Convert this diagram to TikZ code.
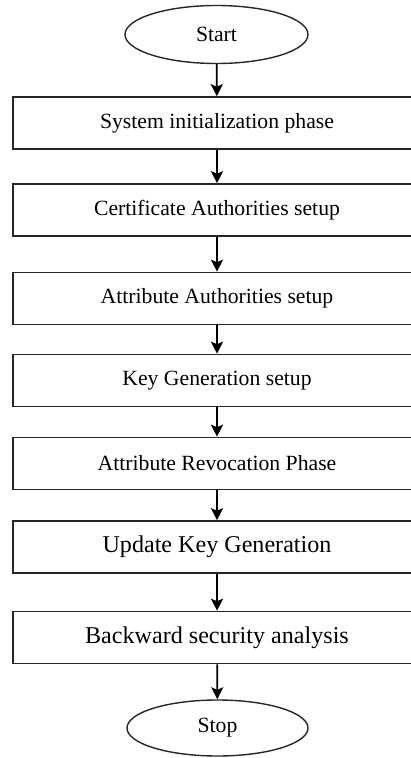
\documentclass[tikz,border=0pt]{standalone}
\usepackage{fontspec}
\setmainfont{Liberation Serif}
\usetikzlibrary{shapes.geometric,arrows.meta}
\begin{document}
\begin{tikzpicture}[x=1pt,y=-1pt,
  stepbox/.style={draw=black!85,line width=1.6pt,rectangle,minimum width=408pt,minimum height=52pt,inner sep=0pt,
    font=\fontsize{21.7}{24}\selectfont},
  bigbox/.style={stepbox,font=\fontsize{24.1}{27}\selectfont},
  term/.style={draw=black!85,line width=1.4pt,ellipse,minimum width=183pt,minimum height=58pt,inner sep=0pt,
    font=\fontsize{21.7}{24}\selectfont},
  flow/.style={line width=1.8pt,-{Stealth[length=12pt,width=12pt,inset=2.5pt]}}]
\clip (0,0) rectangle (411,758);
\node[term] (start) at (216.5,34.5) {Start};
\node[stepbox] (b1) at (217,123) {System initialization phase};
\node[stepbox] (b2) at (217,210) {Certificate Authorities setup};
\node[stepbox] (b3) at (217,298.5) {Attribute Authorities setup};
\node[stepbox] (b4) at (217,380.5) {Key Generation setup};
\node[stepbox] (b5) at (217,463.5) {Attribute Revocation Phase};
\node[bigbox] (b6) at (217,547) {Update Key Generation};
\node[bigbox] (b7) at (217,637.5) {Backward security analysis};
\node[term,minimum width=181pt,minimum height=56pt] (stop) at (217.5,728) {Stop};
\draw[flow] (start) -- (b1);
\draw[flow] (b1) -- (b2);
\draw[flow] (b2) -- (b3);
\draw[flow] (b3) -- (b4);
\draw[flow] (b4) -- (b5);
\draw[flow] (b5) -- (b6);
\draw[flow] (b6) -- (b7);
\draw[flow] (b7) -- (stop);
\end{tikzpicture}
\end{document}
